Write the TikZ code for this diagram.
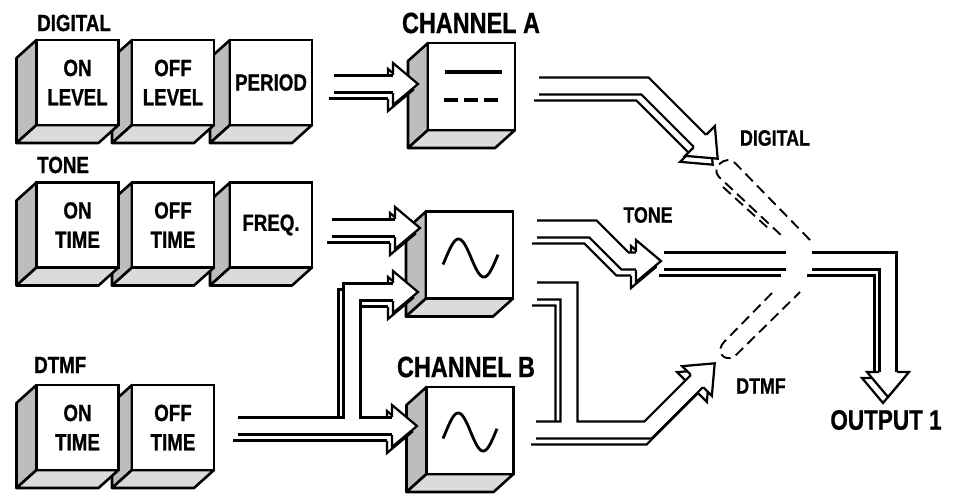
\documentclass[tikz,border=0pt]{standalone}
\usepackage{fontspec}
\setmainfont{Liberation Sans}[FakeStretch=0.8,BoldFeatures={FakeBold=0.8}]
\usetikzlibrary{calc,backgrounds}

\tikzset{
	keyface/.style={draw,fill=white,line width=2.2pt,outer sep=0pt,inner sep=0pt,
		minimum width=2.46cm,minimum height=2.55cm,align=center,
		font=\fontsize{20}{25}\selectfont\bfseries},
	chanface/.style={keyface,minimum width=2.61cm,minimum height=2.61cm},
	sideface/.style={draw,fill=black!26,line width=2.2pt,line join=round},
	baseface/.style={draw,fill=black!14,line width=2.2pt,line join=round},
	rowlabel/.style={anchor=west,inner sep=0pt,font=\fontsize{20}{22}\selectfont\bfseries},
	siglabel/.style={inner sep=0pt,font=\fontsize{19}{22}\selectfont\bfseries},
	chanlabel/.style={inner sep=0pt,font=\fontsize{25}{28}\selectfont\bfseries},
	pipe/.style={draw=white,line width=12.6pt,line join=miter,line cap=rect,
		preaction={draw=black,line width=16.4pt,transform canvas={shift={(-5,6)}}},
		preaction={draw=white,line width=12.6pt,transform canvas={shift={(-5,6)}}},
		preaction={draw=black,line width=16.4pt}},
	dashpipe/.style={dash pattern=on 9pt off 5pt,line width=1.6pt},
	pipehead/.pic={
		\fill[white] (0,-21) -- (25,0) -- (0,21) -- cycle;
		\draw[line width=1.9pt,line join=miter] (0,-9) -- (0,-21) -- (25,0) -- (0,21) -- (0,9);
	}
}

\begin{document}
\begin{tikzpicture}[x=0.03cm,y=-0.03cm]
	\useasboundingbox (0,0) rectangle (956,495);
	% keys, right to left so the left ones come out in front
	\node[keyface] (dper) at (271,82.5) {PERIOD};
	\node[keyface] (doff) at (173,82.5) {OFF\\LEVEL};
	\node[keyface] (don) at (77.5,82.5) {ON\\LEVEL};
	\node[keyface] (tfrq) at (271,225) {FREQ.};
	\node[keyface] (toff) at (173,225) {OFF\\TIME};
	\node[keyface] (ton) at (77.5,225) {ON\\TIME};
	\node[keyface] (moff) at (173,427.5) {OFF\\TIME};
	\node[keyface] (mon) at (77.5,427.5) {ON\\TIME};
	\node[chanface] (chA) at (471.5,86.5) {};
	\node[chanface] (chT) at (469.5,255) {};
	\node[chanface] (chB) at (470,430.5) {};
	\begin{pgfonlayer}{background}
		\foreach \n in {dper,doff,don,tfrq,toff,ton,moff,mon,chA,chT,chB} {
			\filldraw[sideface] (\n.north west) -- (\n.south west) -- ++(-20,18) -- ($(\n.north west)+(-20,18)$) -- cycle;
			\filldraw[baseface] (\n.south west) -- (\n.south east) -- ++(-20,18) -- ($(\n.south west)+(-20,18)$) -- cycle;
		}
	\end{pgfonlayer}

	\node[rowlabel] (digital) at (37,23) {DIGITAL};
	\node[rowlabel] (tone) at (37,165) {TONE};
	\node[rowlabel] (dtmf) at (34,365) {DTMF};
	\node[chanlabel] (chanA) at (471,23) {CHANNEL A};
	\node[chanlabel] (chanB) at (466,367) {CHANNEL B};
	\node[siglabel] (sigdig) at (775,138) {DIGITAL};
	\node[siglabel] (sigtone) at (648,215) {TONE};
	\node[siglabel] (sigdtmf) at (761,386) {DTMF};
	\node[chanlabel,font=\fontsize{24}{28}\selectfont\bfseries] (output) at (886,420) {OUTPUT 1};

	% what the channels show
	\draw[line width=2.8pt] (445,72) -- (502,72);
	\draw[line width=2.8pt,dash pattern=on 12pt off 5pt] (444,100) -- (503,100);
	\draw[line width=2.4pt,domain=-20:370,samples=60,smooth] plot ({443+(\x+20)/390*55},{258-19*sin(\x)});
	\draw[line width=2.4pt,domain=-20:370,samples=60,smooth] plot ({443+(\x+20)/390*54},{432-19*sin(\x)});

	% pipes
	\coordinate (per-out) at (334,84);
	\coordinate (a-in) at (393,84);
	\coordinate (frq-out) at (332,228);
	\coordinate (tone-in1) at (395,228);
	\coordinate (dtmf-out) at (238,426);
	\coordinate (dtmf-up) at (352,426);
	\coordinate (dtmf-bend) at (352,292);
	\coordinate (tone-in2) at (393,292);
	\coordinate (b-in) at (392,426);
	\coordinate (a-out) at (539,86);
	\coordinate (a-bend) at (645,86);
	\coordinate (dig-in) at (700,141);
	\coordinate (tone-out) at (537,229);
	\coordinate (tone-b1) at (593,229);
	\coordinate (tone-b2) at (625,261);
	\coordinate (tone-in) at (636,261);
	\coordinate (tone-pass) at (664,261);
	\coordinate (mix-l) at (786,261);
	\coordinate (mix-r) at (812,261);
	\coordinate (out-bend) at (888,261);
	\coordinate (out-in) at (888,372);
	\coordinate (tone-low) at (537,291);
	\coordinate (tone-down) at (569,291);
	\coordinate (b-join) at (569,430);
	\coordinate (b-out) at (536,430);
	\coordinate (b-bend) at (648,430);
	\coordinate (dtmf-in) at (697,381);

	\foreach \c/\a in {a-in/0,tone-in1/0,tone-in2/0,b-in/0,dig-in/-45,tone-in/0,dtmf-in/45,out-in/-90}
		\pic[rotate=\a] at ($(\c)+(-5,6)$) {pipehead};

	\draw[pipe] (per-out) -- (a-in);
	\draw[pipe] (frq-out) -- (tone-in1);
	\draw[pipe] (dtmf-out) -- (b-in) (dtmf-up) -- (dtmf-bend) -- (tone-in2);
	\draw[pipe] (a-out) -- (a-bend) -- (dig-in);
	\draw[pipe] (tone-out) -- (tone-b1) -- (tone-b2) -- (tone-in);
	\draw[pipe] (tone-pass) -- (mix-l);
	\draw[pipe] (mix-r) -- (out-bend) -- (out-in);
	\draw[pipe] (b-out) -- (b-bend) -- (dtmf-in) (tone-low) -- (tone-down) -- (b-join);

	\foreach \c/\a in {a-in/0,tone-in1/0,tone-in2/0,b-in/0,dig-in/-45,tone-in/0,dtmf-in/45,out-in/-90}
		\pic[rotate=\a] at (\c) {pipehead};

	% switched paths
	\draw[dashpipe] (810,240) -- (735,163) .. controls (726,154) and (710,168) .. (719,177) -- (783,237);
	\draw[dashpipe] (723,187) -- (768,228);
	\draw[dashpipe] (772,293) -- (724,342) .. controls (716,350) and (722,362) .. (734,357) -- (800,292);
\end{tikzpicture}
\end{document}
